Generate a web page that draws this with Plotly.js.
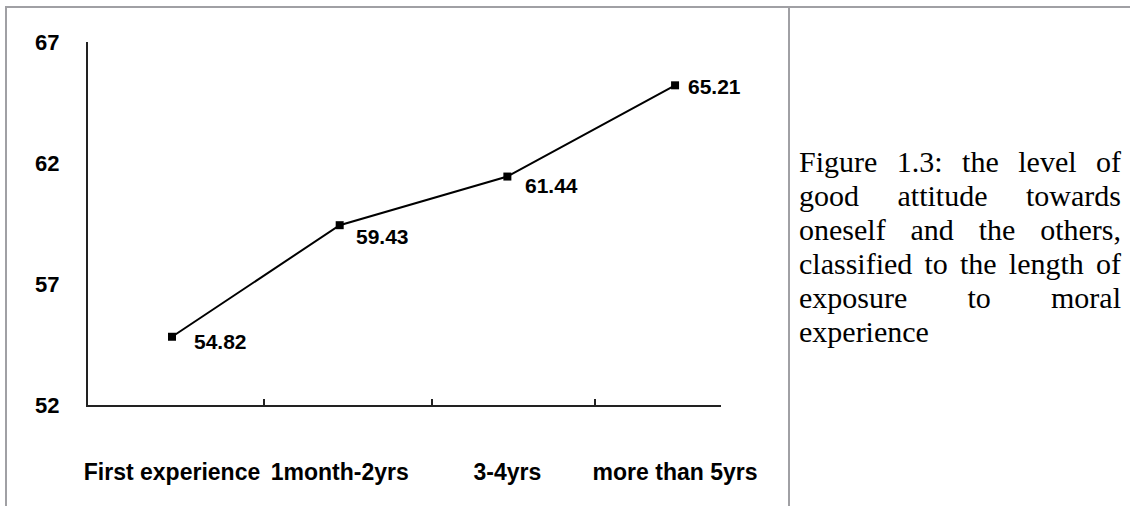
<!DOCTYPE html>
<html>
<head>
<meta charset="utf-8">
<script src="https://cdn.plot.ly/plotly-3.0.1.min.js"></script>
<style>
  html, body { margin: 0; padding: 0; background: #fff; }
  #wrap { position: relative; width: 1130px; height: 506px; overflow: hidden; }
  #chart { position: absolute; left: 0; top: 0; width: 1130px; height: 506px; }
  .bline { position: absolute; background: #a0a0a4; pointer-events: none; }
  #caption {
    position: absolute; left: 799px; top: 145px; width: 322px;
    font-family: "Liberation Serif", "Times New Roman", serif;
    font-size: 30px; line-height: 34px; color: #000;
    text-align: justify; text-align-last: left;
  }
</style>
</head>
<body>
<div id="wrap">
  <div id="chart"></div>
  <div class="bline" style="left:5px; top:6px; width:1125px; height:2px;"></div>
  <div class="bline" style="left:5px; top:6px; width:2px; height:500px;"></div>
  <div class="bline" style="left:788px; top:6px; width:2px; height:500px;"></div>
  <div id="caption">Figure 1.3: the level of good attitude towards oneself and the others, classified to the length of exposure to moral experience</div>
</div>
<script>
// ---- data ----
const categories = ["First experience", "1month-2yrs", "3-4yrs", "more than 5yrs"];
const scores = [54.82, 59.43, 61.44, 65.21];
const yTickValues = [52, 57, 62, 67];

// ---- styles (label offsets in px) ----
const labelXShift = [20, 14, 16, 11];
const labelYShift = [-5, -11, -9, -1];

const xs = categories.map((_, i) => i);

const trace = {
  x: xs,
  y: scores,
  type: "scatter",
  mode: "lines+markers",
  line: { color: "#000", width: 2 },
  marker: { symbol: "square", size: 8, color: "#000" },
  hoverinfo: "skip",
  showlegend: false
};

const annotations = scores.map((v, i) => ({
  x: xs[i], y: v, xref: "x", yref: "y",
  text: v.toFixed(2),
  showarrow: false,
  xanchor: "left", yanchor: "middle",
  xshift: labelXShift[i], yshift: labelYShift[i],
  font: { family: "Liberation Sans, Arial, sans-serif", size: 21, color: "#000", weight: "bold" }
}));

const layout = {
  width: 1130, height: 506,
  margin: { l: 88, r: 409, t: 42, b: 101, pad: 0 },
  paper_bgcolor: "#fff", plot_bgcolor: "#fff",
  showlegend: false,
  xaxis: {
    range: [-0.501, 3.274],
    showgrid: false, zeroline: false,
    showline: true, linecolor: "#222", linewidth: 2,
    tickmode: "array", tickvals: xs, ticktext: categories,
    ticks: "", ticklabelstandoff: 45,
    tickfont: { family: "Liberation Sans, Arial, sans-serif", size: 23, color: "#000", weight: "bold" },
    minor: { tickmode: "array", tickvals: [0.55, 1.55, 2.52], ticks: "inside", ticklen: 6, tickwidth: 2, tickcolor: "#222", showgrid: false },
    fixedrange: true
  },
  yaxis: {
    range: [52, 67],
    showgrid: false, zeroline: false,
    showline: true, linecolor: "#222", linewidth: 2,
    tickmode: "array", tickvals: yTickValues, ticktext: yTickValues.map(String),
    ticks: "", ticklabelstandoff: 22,
    tickfont: { family: "Liberation Sans, Arial, sans-serif", size: 22, color: "#000", weight: "bold" },
    fixedrange: true
  },
  annotations: annotations
};

Plotly.newPlot("chart", [trace], layout, { displayModeBar: false, staticPlot: true });
</script>
</body>
</html>
